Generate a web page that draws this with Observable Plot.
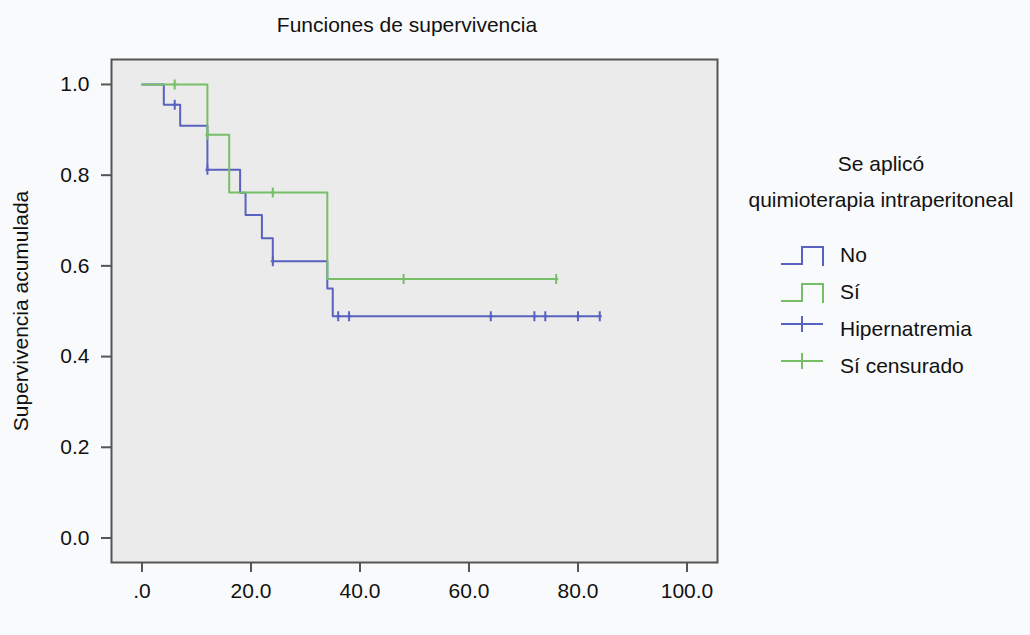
<!DOCTYPE html>
<html><head><meta charset="utf-8">
<script src="https://cdn.jsdelivr.net/npm/d3@7"></script>
<script src="https://cdn.jsdelivr.net/npm/@observablehq/plot@0.6"></script>
<style>
html,body{margin:0;padding:0;background:#f9fafb;}
#wrap{position:relative;width:1030px;height:635px;font-family:"Liberation Sans",Arial,sans-serif;color:#111;overflow:hidden;}
#title{position:absolute;left:207px;width:400px;top:14px;text-align:center;font-size:21px;line-height:21px;white-space:nowrap;}
#chart{position:absolute;left:0;top:0;}
#legend{position:absolute;left:740px;top:140px;}
</style></head><body>
<div id="wrap"><div id="chart"></div><div id="title"></div><svg id="legend" width="290" height="260"></svg></div>
<script>
// ---- data ----
const titleText = "Funciones de supervivencia";
const yLabel = "Supervivencia acumulada";
const xTicks = [0, 20, 40, 60, 80, 100];
const xTickLabels = [".0", "20.0", "40.0", "60.0", "80.0", "100.0"];
const yTicks = [0, 0.2, 0.4, 0.6, 0.8, 1.0];
const yTickLabels = ["0.0", "0.2", "0.4", "0.6", "0.8", "1.0"];

// "No" group: step curve (time, cumulative survival)
const noTimes = [0, 4, 7, 12, 18, 19, 22, 24, 34, 35, 84];
const noSurv  = [1.0, 0.955, 0.909, 0.812, 0.761, 0.712, 0.661, 0.610, 0.550, 0.489, 0.489];
const noCensorTimes = [6, 12, 24, 36, 38, 64, 72, 74, 80, 84];
const noCensorSurv  = [0.955, 0.812, 0.610, 0.489, 0.489, 0.489, 0.489, 0.489, 0.489, 0.489];

// "Sí" group
const siTimes = [0, 12, 16, 34, 76];
const siSurv  = [1.0, 0.889, 0.762, 0.571, 0.571];
const siCensorTimes = [6, 12, 24, 48, 76];
const siCensorSurv  = [1.0, 0.889, 0.762, 0.571, 0.571];

const legendTitle = ["Se aplicó", "quimioterapia intraperitoneal"];
const legendLabels = ["No", "Sí", "Hipernatremia", "Sí censurado"];
const legendKinds = ["step", "step", "censor", "censor"];
const blue = "#5a62c0";
const green = "#77bf66";
const legendColors = [blue, green, blue, green];

// ---- build tables ----
const noLine = noTimes.map((t, i) => ({t, s: noSurv[i]}));
const siLine = siTimes.map((t, i) => ({t, s: siSurv[i]}));
const noCens = noCensorTimes.map((t, i) => ({t, s: noCensorSurv[i]}));
const siCens = siCensorTimes.map((t, i) => ({t, s: siCensorSurv[i]}));

const censorSymbol = {
  draw(ctx, size) {
    const h = Math.sqrt(size / Math.PI);
    ctx.moveTo(0, -h); ctx.lineTo(0, h);
    ctx.moveTo(-h * 0.4, 0); ctx.lineTo(h * 0.4, 0);
  }
};

const chart = Plot.plot({
  width: 760, height: 635,
  marginLeft: 111, marginRight: 43, marginTop: 59, marginBottom: 73,
  style: {background: "transparent", fontFamily: "'Liberation Sans', Arial, sans-serif", fontSize: "21px", color: "#111"},
  x: {domain: [-5.6, 105.6]},
  y: {domain: [-0.054, 1.055]},
  marks: [
    Plot.frame({fill: "#ebebeb"}),
    Plot.axisX({ticks: xTicks, tickFormat: d => xTickLabels[xTicks.indexOf(d)], tickSize: 10, tickPadding: 11,
      stroke: "#555", strokeWidth: 2, fill: "#111", label: null}),
    Plot.axisY({ticks: yTicks, tickFormat: d => yTickLabels[yTicks.findIndex(v => Math.abs(v - d) < 1e-9)], tickSize: 10, tickPadding: 12,
      stroke: "#555", strokeWidth: 2, fill: "#111", label: yLabel, labelAnchor: "center", labelOffset: 98, labelArrow: "none"}),
    Plot.line(noLine, {x: "t", y: "s", curve: "step-after", stroke: blue, strokeWidth: 2}),
    Plot.line(siLine, {x: "t", y: "s", curve: "step-after", stroke: green, strokeWidth: 2}),
    Plot.dot(noCens, {x: "t", y: "s", r: 5, symbol: censorSymbol, fill: "none", stroke: blue, strokeWidth: 2}),
    Plot.dot(siCens, {x: "t", y: "s", r: 5, symbol: censorSymbol, fill: "none", stroke: green, strokeWidth: 2}),
    Plot.frame({stroke: "#555", strokeWidth: 2})
  ]
});
document.getElementById("chart").appendChild(chart);
document.getElementById("title").textContent = titleText;

// ---- legend ----
const svg = d3.select("#legend");
const g = svg.append("g").attr("font-family", "'Liberation Sans', Arial, sans-serif").attr("font-size", 21).attr("fill", "#111");
legendTitle.forEach((line, i) => {
  g.append("text").attr("x", 141).attr("y", 31 + i * 36).attr("text-anchor", "middle").text(line);
});
legendLabels.forEach((lab, i) => {
  const base = 122 + i * 37;
  const c = legendColors[i];
  if (legendKinds[i] === "step") {
    g.append("path").attr("d", `M41,${base + 2}H62V${base - 15}H83V${base + 4}`)
      .attr("fill", "none").attr("stroke", c).attr("stroke-width", 2);
  } else {
    g.append("path").attr("d", `M41,${base - 12}H83M62,${base - 20}V${base - 4}`)
      .attr("fill", "none").attr("stroke", c).attr("stroke-width", 2);
  }
  g.append("text").attr("x", 100).attr("y", base).text(lab);
});
</script>
</body></html>
